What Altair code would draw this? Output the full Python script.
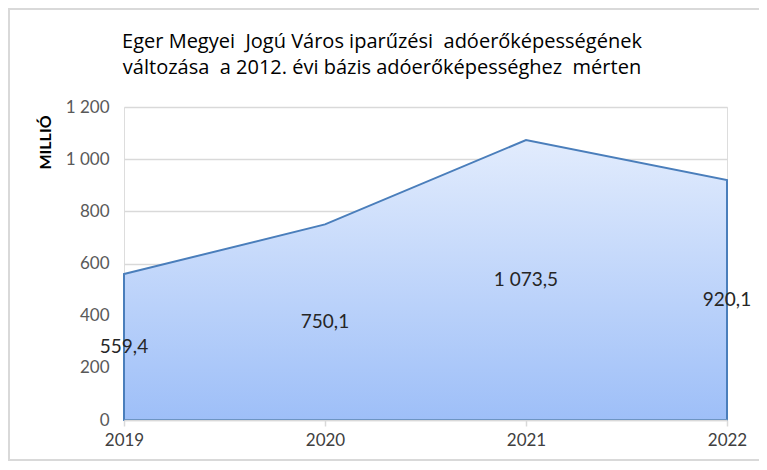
import altair as alt
import pandas as pd

years = ["2019", "2020", "2021", "2022"]
values = [559.4, 750.1, 1073.5, 920.1]
y_ticks = [0, 200, 400, 600, 800, 1000, 1200]
title_line1 = "Eger Megyei\u00a0 Jogú Város iparűzési\u00a0 adóerőképességének"
title_line2 = "változása\u00a0 a 2012. évi bázis adóerőképességhez\u00a0 mérten"
y_title = "MILLIÓ"

df = pd.DataFrame({"year": years, "value": values})
t1_df = pd.DataFrame({"t": [title_line1]})
t2_df = pd.DataFrame({"t": [title_line2]})
one_df = pd.DataFrame({"k": [0]})

FONT = "Lato"
TFONT = "Open Sans"

x_enc = alt.X(
    "year:O",
    scale=alt.Scale(padding=0),
    axis=alt.Axis(
        title=None, labelAngle=0, labelFontSize=17, labelColor="#404040",
        labelFont=FONT, domainColor="#d9d9d9", domainWidth=1.5,
        tickColor="#d9d9d9", tickWidth=1.5, tickSize=6, labelPadding=6,
        zindex=1, grid=False,
    ),
)

area = alt.Chart(df).mark_area(
    color=alt.Gradient(
        gradient="linear",
        stops=[alt.GradientStop(color="#e2ecfd", offset=0),
               alt.GradientStop(color="#9ebff8", offset=1)],
        x1=1, x2=1, y1=0, y2=1,
    ),
    stroke="#4a7ebb", strokeWidth=2, opacity=1,
).encode(
    x=x_enc,
    y=alt.Y(
        "value:Q",
        scale=alt.Scale(domain=[0, 1200], nice=False),
        axis=alt.Axis(
            values=y_ticks, title=y_title, titleFont=FONT, titleFontSize=16,
            titleFontWeight="bold", titleColor="#000000",
            titleAngle=270, titleAlign="center", titleBaseline="middle",
            titleX=-79, titleY=35,
            labelFont=FONT, labelFontSize=17, labelColor="#595959",
            labelExpr="replace(format(datum.value, ','), ',', ' ')",
            labelPadding=15, ticks=False, domain=False,
            gridColor="#d9d9d9", gridWidth=1.5,
        ),
    ),
)

labels = alt.Chart(df).transform_calculate(
    half="datum.value / 2",
    txt="replace(replace(format(datum.value, ',.1f'), ',', ' '), '.', ',')",
).mark_text(font=FONT, fontSize=19, color="#262626", baseline="middle").encode(
    x=alt.X("year:O"),
    y=alt.Y("half:Q"),
    text="txt:N",
)

title1 = alt.Chart(t1_df).mark_text(
    font=TFONT, fontSize=20, fontWeight="normal", color="#000000",
    baseline="alphabetic", align="center"
).encode(x=alt.value(258), y=alt.value(-59), text="t:N")
title2 = alt.Chart(t2_df).mark_text(
    font=TFONT, fontSize=20, fontWeight="normal", color="#000000",
    baseline="alphabetic", align="center"
).encode(x=alt.value(258), y=alt.value(-33), text="t:N")

border = alt.Chart(one_df).mark_rect(
    fill=None, stroke="#d9d9d9", strokeWidth=2
).encode(
    x=alt.value(-115), x2=alt.value(700), y=alt.value(-98), y2=alt.value(353)
)

chart = alt.layer(border, area, labels, title1, title2).properties(
    width=603, height=313,
    autosize=alt.AutoSizeParams(type="none"),
    padding={"left": 116, "top": 99, "right": 32, "bottom": 42},
).configure_view(stroke=None).configure(background="white")

chart.save("out.html", embed_options={"renderer": "svg", "actions": False})
